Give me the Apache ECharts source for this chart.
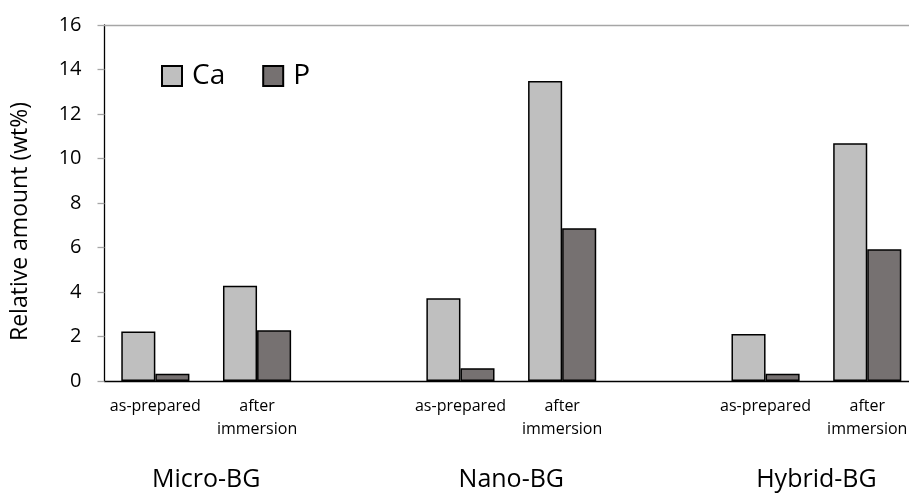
<!DOCTYPE html>
<html>
<head>
<meta charset="utf-8">
<script src="https://cdn.jsdelivr.net/npm/echarts@6/dist/echarts.min.js"></script>
<style>html,body{margin:0;padding:0;background:#fff;overflow:hidden;}#c{width:909px;height:493px;}</style>
</head>
<body>
<div id="c"></div>
<script>
// ---- data ----
var categories = ['as-prepared', 'after\nimmersion', '', 'as-prepared', 'after\nimmersion', '', 'as-prepared', 'after\nimmersion'];
var caValues = [2.22, 4.28, null, 3.72, 13.48, null, 2.11, 10.68];
var pValues  = [0.33, 2.28, null, 0.57, 6.86, null, 0.33, 5.92];
var groupNames = ['Micro-BG', 'Nano-BG', 'Hybrid-BG'];
var groupBoundary = [1, 4, 7]; // category boundary under each group
var yTicks = [0, 2, 4, 6, 8, 10, 12, 14, 16];

var FONT = 'Open Sans';
var chart = echarts.init(document.getElementById('c'));
var groupAt = {};
groupBoundary.forEach(function (b, i) { groupAt[b] = groupNames[i]; });

chart.setOption({
  animation: false,
  textStyle: { fontFamily: FONT },
  grid: { left: 104.5, top: 25, width: 813.6, height: 356, containLabel: false, outerBoundsMode: 'none' },
  legend: {
    left: 161, top: 62, padding: 0, itemWidth: 20, itemHeight: 20, itemGap: 37,
    icon: 'rect',
    textStyle: { fontFamily: FONT, fontSize: 28, color: '#000', padding: [0, 0, 0, 5] },
    data: ['Ca', 'P']
  },
  xAxis: [
    {
      type: 'category', data: categories, position: 'bottom',
      axisLine: { lineStyle: { color: '#000', width: 1.3 } },
      axisTick: { show: false },
      axisLabel: { color: '#000', fontFamily: FONT, fontSize: 16, lineHeight: 23, margin: 14, interval: 0 }
    },
    {
      type: 'category', data: categories, position: 'top',
      axisLine: { lineStyle: { color: '#a6a6a6', width: 1.3 } },
      axisTick: { show: false }, axisLabel: { show: false }
    },
    {
      type: 'value', position: 'bottom', min: 0, max: categories.length, interval: 1,
      axisLine: { show: false }, axisTick: { show: false }, splitLine: { show: false },
      axisLabel: {
        color: '#000', fontFamily: FONT, fontSize: 25, lineHeight: 26, margin: 86,
        formatter: function (v) { return groupAt[v] || ''; }
      }
    }
  ],
  yAxis: {
    type: 'value', min: yTicks[0], max: yTicks[yTicks.length - 1], interval: yTicks[1] - yTicks[0],
    name: 'Relative amount (wt%)', nameLocation: 'middle', nameGap: 73, nameRotate: 90,
    nameTextStyle: { color: '#000', fontFamily: FONT, fontSize: 23, padding: [0, 37, 0, 0] },
    axisLine: { show: true, lineStyle: { color: '#000', width: 1.3 } },
    axisTick: { show: true, length: 7, lineStyle: { color: '#a6a6a6', width: 1.3 } },
    splitLine: { show: false },
    axisLabel: { color: '#000', fontFamily: FONT, fontSize: 20, margin: 23 }
  },
  series: [
    {
      name: 'Ca', type: 'bar', data: caValues, barGap: '0%', barCategoryGap: '33%',
      itemStyle: { color: '#BFBFBF', borderColor: '#000', borderWidth: 1.5 }
    },
    {
      name: 'P', type: 'bar', data: pValues,
      itemStyle: { color: '#767171', borderColor: '#000', borderWidth: 1.5 }
    }
  ]
});
</script>
</body>
</html>
